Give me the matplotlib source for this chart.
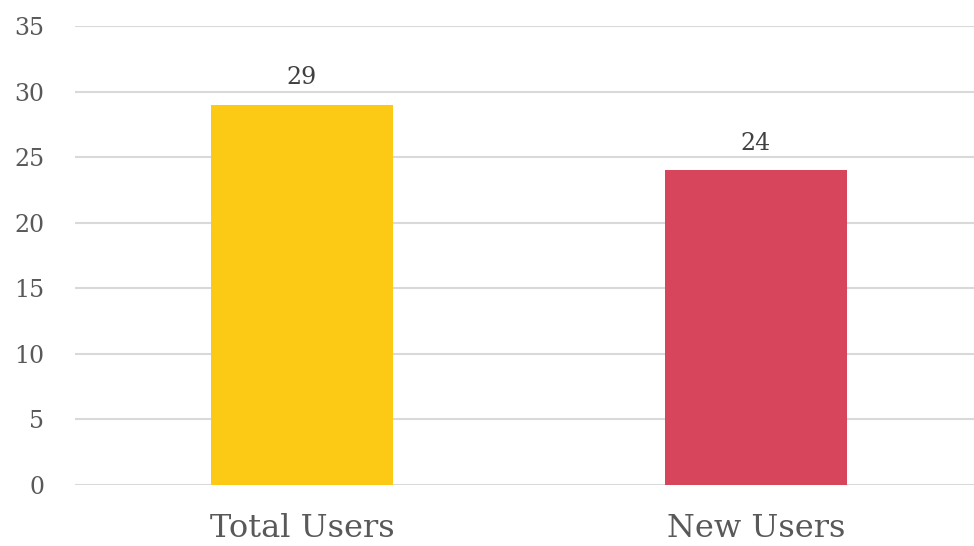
import matplotlib.pyplot as plt

categories = ['Total Users', 'New Users']
values = [29, 24]
colors = ['#FCC914', '#D6455B']
yticks = [0, 5, 10, 15, 20, 25, 30, 35]

plt.rcParams['font.family'] = ['DejaVu Serif']

fig = plt.figure(figsize=(9.74, 5.46), dpi=100)
ax = fig.add_axes([75 / 974, 1 - 485 / 546, 908 / 974, 459 / 546])

x = range(len(categories))
bars = ax.bar(x, values, width=0.4, color=colors, zorder=3)
for b, v in zip(bars, values):
    ax.text(b.get_x() + b.get_width() / 2, v + 1.2, str(v), ha='center', va='bottom',
            fontsize=17, color='#404040')

ax.set_xlim(-0.5, 1.5)
ax.set_ylim(0, 35)
ax.set_yticks(yticks)
ax.set_xticks(list(x))
ax.set_xticklabels(categories)
ax.grid(axis='y', color='#D9D9D9', linewidth=1.5, zorder=0)
ax.tick_params(axis='y', length=0, labelsize=17, labelcolor='#595959', pad=22)
ax.tick_params(axis='x', length=0, labelsize=23, labelcolor='#595959', pad=20)
for s in ax.spines.values():
    s.set_visible(False)

fig.savefig('out.png', dpi=100)
